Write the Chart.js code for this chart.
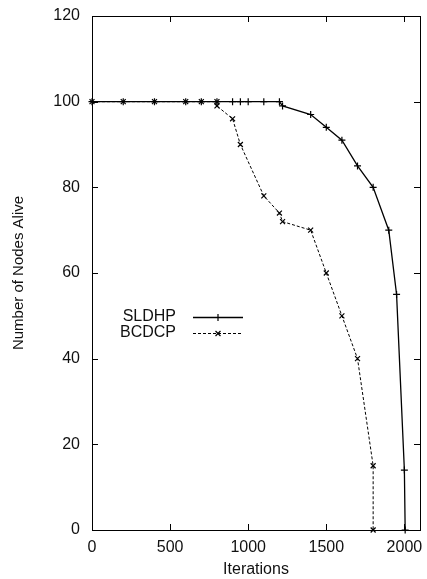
<!DOCTYPE html>
<html>
<head>
<meta charset="utf-8">
<title>Number of Nodes Alive</title>
<script src="https://cdn.jsdelivr.net/npm/chart.js@4.4.1/dist/chart.umd.min.js"></script>
<style>
  html, body { margin: 0; padding: 0; background: #fff; }
  canvas { display: block; }
</style>
</head>
<body>
<canvas id="chart" width="427" height="579"></canvas>
<script>
// iterations / alive nodes for each protocol
const sldhpIter = [0, 200, 400, 600, 700, 800, 900, 950, 1000, 1100, 1200, 1220, 1400, 1500, 1600, 1700, 1800, 1900, 1950, 2000, 2005];
const sldhpAlive = [100, 100, 100, 100, 100, 100, 100, 100, 100, 100, 100, 99, 97, 94, 91, 85, 80, 70, 55, 14, 0];

const bcdcpIter = [0, 200, 400, 600, 700, 800, 800, 900, 950, 1100, 1200, 1220, 1400, 1500, 1600, 1700, 1800, 1800];
const bcdcpAlive = [100, 100, 100, 100, 100, 100, 99, 96, 90, 78, 74, 72, 70, 60, 50, 40, 15, 0];

const xTicks = [0, 500, 1000, 1500, 2000];
const yTicks = [0, 20, 40, 60, 80, 100, 120];

const FONT = "'Liberation Sans', Arial, sans-serif";
const INK = "#111";

const toPoints = (xs, ys) => xs.map((x, i) => ({ x: x, y: ys[i] }));

// frame on all four sides with gnuplot-style inward tick marks
const framePlugin = {
  id: "frame",
  afterDatasetsDraw(chart) {
    const { ctx, chartArea: a, scales } = chart;
    const len = 6;
    ctx.save();
    ctx.strokeStyle = "#000";
    ctx.lineWidth = 1;
    ctx.beginPath();
    xTicks.forEach((v) => {
      const px = Math.round(scales.x.getPixelForValue(v)) + 0.5;
      ctx.moveTo(px, a.bottom);
      ctx.lineTo(px, a.bottom - len);
      ctx.moveTo(px, a.top);
      ctx.lineTo(px, a.top + len);
    });
    yTicks.forEach((v) => {
      const py = Math.round(scales.y.getPixelForValue(v)) + 0.5;
      ctx.moveTo(a.left, py);
      ctx.lineTo(a.left + len, py);
      ctx.moveTo(a.right, py);
      ctx.lineTo(a.right - len, py);
    });
    ctx.stroke();
    ctx.strokeRect(Math.round(a.left) + 0.5, Math.round(a.top) + 0.5,
      Math.round(a.right - a.left), Math.round(a.bottom - a.top));
    ctx.restore();
  },
};

// key drawn inside the plot, text on the left and a line sample on the right
const keyPlugin = {
  id: "key",
  afterDraw(chart) {
    const { ctx } = chart;
    const textRight = 176, x0 = 193, x1 = 243;
    let y = 317;
    ctx.save();
    ctx.font = "16px " + FONT;
    ctx.textAlign = "right";
    ctx.textBaseline = "middle";
    chart.data.datasets.forEach((ds) => {
      ctx.fillStyle = INK;
      ctx.fillText(ds.label, textRight, y);
      ctx.strokeStyle = ds.borderColor;
      ctx.lineWidth = ds.borderWidth;
      ctx.setLineDash(ds.borderDash || []);
      ctx.beginPath();
      ctx.moveTo(x0, y + 0.5);
      ctx.lineTo(x1, y + 0.5);
      ctx.stroke();
      ctx.setLineDash([]);
      ctx.lineWidth = ds.pointBorderWidth;
      Chart.helpers.drawPoint(ctx, {
        pointStyle: ds.pointStyle,
        radius: ds.pointRadius,
        borderWidth: ds.pointBorderWidth,
        rotation: 0,
      }, (x0 + x1) / 2, y + 0.5);
      y += 16;
    });
    ctx.restore();
  },
};

new Chart(document.getElementById("chart"), {
  type: "line",
  data: {
    datasets: [
      {
        label: "SLDHP",
        data: toPoints(sldhpIter, sldhpAlive),
        borderColor: "#000",
        borderWidth: 1.3,
        pointStyle: "cross",
        pointRadius: 3.5,
        pointBorderWidth: 1.2,
        pointBorderColor: "#000",
        pointBackgroundColor: "#000",
        tension: 0,
        clip: false,
      },
      {
        label: "BCDCP",
        data: toPoints(bcdcpIter, bcdcpAlive),
        borderColor: "#000",
        borderWidth: 1,
        borderDash: [3, 2],
        pointStyle: "crossRot",
        pointRadius: 3.5,
        pointBorderWidth: 1.2,
        pointBorderColor: "#000",
        pointBackgroundColor: "#000",
        tension: 0,
        clip: false,
      },
    ],
  },
  options: {
    responsive: false,
    animation: false,
    layout: { padding: { top: 16, right: 7, bottom: 0, left: 0 } },
    plugins: {
      legend: { display: false },
      tooltip: { enabled: false },
    },
    scales: {
      x: {
        type: "linear",
        min: 0,
        max: 2100,
        afterBuildTicks: (scale) => { scale.ticks = xTicks.map((v) => ({ value: v })); },
        afterFit: (scale) => {
          scale.height = 49;
          scale.paddingLeft = 0;
          scale.paddingRight = 0;
        },
        grid: { display: false, drawTicks: false },
        border: { display: false },
        ticks: {
          color: INK,
          padding: 8,
          font: { family: FONT, size: 16 },
          callback: (v) => String(v),
        },
        title: {
          display: true,
          text: "Iterations",
          color: INK,
          padding: { top: 2, bottom: 0 },
          font: { family: FONT, size: 16 },
        },
      },
      y: {
        min: 0,
        max: 120,
        afterBuildTicks: (scale) => { scale.ticks = yTicks.map((v) => ({ value: v })); },
        afterFit: (scale) => {
          scale.width = 92;
          scale.paddingTop = 0;
          scale.paddingBottom = 0;
        },
        grid: { display: false, drawTicks: false },
        border: { display: false },
        ticks: {
          color: INK,
          padding: 12,
          font: { family: FONT, size: 16 },
          callback: (v) => String(v),
        },
        title: {
          display: true,
          text: "Number of Nodes Alive",
          color: INK,
          padding: { top: 10, bottom: 0 },
          font: { family: FONT, size: 15 },
        },
      },
    },
  },
  plugins: [framePlugin, keyPlugin],
});
</script>
</body>
</html>
